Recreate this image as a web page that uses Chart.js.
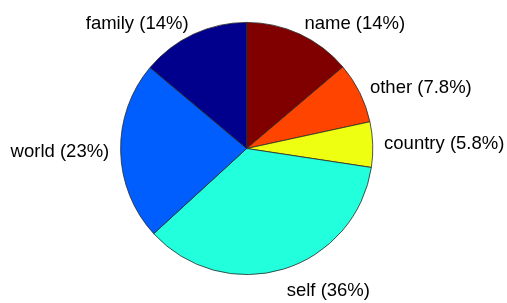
<!DOCTYPE html>
<html lang="en">
<head>
    <meta charset="UTF-8">
    <title>Pie</title>
    <script src="https://cdn.jsdelivr.net/npm/chart.js@4.4.0/dist/chart.umd.min.js"></script>
    <style>
        body { margin: 0; background: #fff; }
        #wrap { width: 507px; height: 303px; }
    </style>
</head>
<body>
    <div id="wrap"><canvas id="myChart" width="507" height="303"></canvas></div>

    <script type="text/javascript">
        // slices clockwise from 12 o'clock
        const categories = ['name', 'other', 'country', 'self', 'world', 'family'];
        const values = [13.8, 7.8, 5.8, 35.8, 22.9, 13.9];
        const colors = ['#800000', '#ff4400', '#eeff11', '#22ffdd', '#005eff', '#00008c'];

        const total = values.reduce((a, b) => a + b, 0);
        const labels = categories.map((c, i) => {
            const pct = values[i] / total * 100;
            return c + ' (' + Number(pct.toPrecision(2)) + '%)';
        });

        // matlab-style labels sitting just outside the rim
        const sliceLabels = {
            id: 'sliceLabels',
            afterDatasetsDraw(chart) {
                const ctx = chart.ctx;
                const meta = chart.getDatasetMeta(0);
                ctx.save();
                ctx.font = "18.5px 'Liberation Sans', Arial, sans-serif";
                ctx.fillStyle = '#000';
                ctx.textBaseline = 'middle';
                meta.data.forEach((arc, i) => {
                    const p = arc.getProps(['x', 'y', 'startAngle', 'endAngle', 'outerRadius'], true);
                    const mid = (p.startAngle + p.endAngle) / 2;
                    const ux = Math.cos(mid), uy = Math.sin(mid);
                    const r = p.outerRadius * 1.09;
                    const x = p.x + r * ux;
                    const y = p.y + r * uy + Math.max(0, uy) * 11;
                    ctx.textAlign = ux >= 0 ? 'left' : 'right';
                    ctx.fillText(labels[i], x, y);
                });
                ctx.restore();
            }
        };

        const ctx = document.getElementById('myChart').getContext('2d');
        const myChart = new Chart(ctx, {
            type: 'pie',
            data: {
                labels: labels,
                datasets: [{
                    data: values,
                    backgroundColor: colors,
                    borderColor: '#2a2a2a',
                    borderWidth: 0.8
                }]
            },
            options: {
                responsive: false,
                animation: false,
                layout: { padding: { left: 120.2, right: 133.8, top: 22, bottom: 28 } },
                plugins: {
                    legend: { display: false },
                    tooltip: { enabled: false }
                }
            },
            plugins: [sliceLabels]
        });
    </script>
</body>
</html>
